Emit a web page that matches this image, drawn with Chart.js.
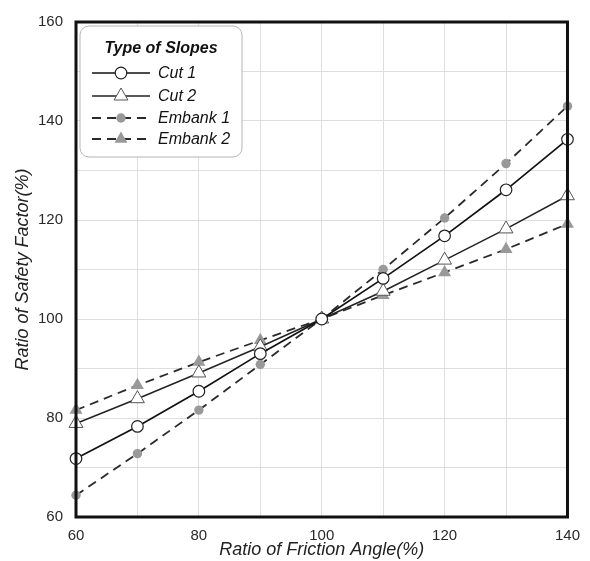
<!DOCTYPE html>
<html>
<head>
<meta charset="utf-8">
<script src="https://cdn.jsdelivr.net/npm/chart.js@4.4.1/dist/chart.umd.min.js"></script>
<style>
  html, body { margin: 0; padding: 0; background: #fff; }
  #wrap { width: 590px; height: 561px; position: relative; }
</style>
</head>
<body>
<div id="wrap"><canvas id="c" width="590" height="561"></canvas></div>
<script>
// Ratio of friction angle (%)
const frictionRatio = [60, 70, 80, 90, 100, 110, 120, 130, 140];
// Ratio of safety factor (%) for each slope type
const cut1     = [71.8, 78.3, 85.4, 93.0, 100, 108.2, 116.8, 126.1, 136.3];
const cut2     = [78.9, 83.9, 89.1, 94.4, 100, 105.6, 111.9, 118.2, 124.9];
const embank1  = [64.4, 72.8, 81.6, 90.8, 100, 110.0, 120.4, 131.4, 143.0];
const embank2  = [81.6, 86.6, 91.3, 95.7, 100, 104.8, 109.4, 114.1, 119.2];
const seriesNames = ['Cut 1', 'Cut 2', 'Embank 1', 'Embank 2'];
const legendTitle = 'Type of Slopes';
const xTitle = 'Ratio of Friction Angle(%)';
const yTitle = 'Ratio of Safety Factor(%)';

const FONT = "'Liberation Sans', Arial, sans-serif";

function pts(ys) { return frictionRatio.map((x, i) => ({ x, y: ys[i] })); }

const datasets = [
  { label: seriesNames[0], data: pts(cut1), borderColor: '#111', borderWidth: 1.7,
    pointStyle: 'circle', pointRadius: 5.8, pointBorderWidth: 1.2,
    pointBorderColor: '#222', pointBackgroundColor: '#fff' },
  { label: seriesNames[1], data: pts(cut2), borderColor: '#222', borderWidth: 1.5,
    pointStyle: 'triangle', pointRadius: 8, pointBorderWidth: 1,
    pointBorderColor: '#555', pointBackgroundColor: '#fff' },
  { label: seriesNames[2], data: pts(embank1), borderColor: '#2a2a2a', borderWidth: 1.8,
    borderDash: [9, 6], pointStyle: 'circle', pointRadius: 4.7, pointBorderWidth: 0,
    pointBorderColor: '#999', pointBackgroundColor: '#999' },
  { label: seriesNames[3], data: pts(embank2), borderColor: '#2a2a2a', borderWidth: 1.8,
    borderDash: [9, 6], pointStyle: 'triangle', pointRadius: 7.5, pointBorderWidth: 0,
    pointBorderColor: '#999', pointBackgroundColor: '#999' }
];
datasets.forEach(d => { d.fill = false; d.tension = 0; d.clip = false; });

// Thick frame around the plotting area
const framePlugin = {
  id: 'frame',
  afterDatasetsDraw(chart) {
    const { ctx, chartArea: a } = chart;
    ctx.save();
    ctx.strokeStyle = '#111';
    ctx.lineWidth = 3;
    ctx.strokeRect(a.left, a.top, a.right - a.left, a.bottom - a.top);
    ctx.restore();
  }
};

// Boxed legend with line + marker samples
const boxLegend = {
  id: 'boxLegend',
  afterDraw(chart) {
    const { ctx } = chart;
    const bx = 80, by = 26, bw = 162, bh = 131, r = 9;
    ctx.save();
    ctx.beginPath();
    ctx.roundRect(bx, by, bw, bh, r);
    ctx.fillStyle = '#fff';
    ctx.fill();
    ctx.strokeStyle = '#b5b5b5';
    ctx.lineWidth = 1;
    ctx.stroke();

    ctx.fillStyle = '#111';
    ctx.font = `italic bold 16px ${FONT}`;
    ctx.textAlign = 'center';
    ctx.textBaseline = 'middle';
    ctx.fillText(legendTitle, bx + bw / 2, 49);

    const rows = [73, 96, 118, 139];
    chart.data.datasets.forEach((ds, i) => {
      const y = rows[i];
      ctx.save();
      ctx.strokeStyle = ds.borderColor;
      ctx.lineWidth = ds.borderWidth;
      ctx.setLineDash(ds.borderDash || []);
      ctx.beginPath();
      ctx.moveTo(92, y);
      ctx.lineTo(150, y);
      ctx.stroke();
      ctx.restore();
      ctx.save();
      ctx.fillStyle = ds.pointBackgroundColor;
      ctx.strokeStyle = ds.pointBorderColor;
      ctx.lineWidth = ds.pointBorderWidth;
      Chart.helpers.drawPoint(ctx, {
        pointStyle: ds.pointStyle, radius: ds.pointRadius,
        borderWidth: ds.pointBorderWidth, rotation: 0
      }, 121, y);
      ctx.restore();
      ctx.fillStyle = '#111';
      ctx.font = `italic 16px ${FONT}`;
      ctx.textAlign = 'left';
      ctx.fillText(ds.label, 158, y + 1);
    });
    ctx.restore();
  }
};

new Chart(document.getElementById('c'), {
  type: 'line',
  data: { datasets },
  options: {
    responsive: false,
    animation: false,
    layout: { padding: { top: 21, right: 22, left: 0, bottom: 0 } },
    plugins: { legend: { display: false }, tooltip: { enabled: false } },
    scales: {
      x: {
        type: 'linear', min: 60, max: 140,
        afterFit(s) { s.height = 44; },
        grid: { color: '#dedede', lineWidth: 1, drawTicks: false },
        border: { display: false },
        ticks: {
          stepSize: 10, padding: 10, color: '#2a2a2a', maxRotation: 0,
          font: { family: FONT, size: 15 },
          callback: v => (v % 20 === 0 ? String(v) : '')
        },
        title: {
          display: true, text: xTitle, color: '#222',
          font: { family: FONT, size: 18, style: 'italic' },
          padding: { top: 0, bottom: 0 }
        }
      },
      y: {
        type: 'linear', min: 60, max: 160,
        afterFit(s) { s.width = 76; },
        grid: { color: '#dedede', lineWidth: 1, drawTicks: false },
        border: { display: false },
        ticks: {
          stepSize: 10, padding: 13, color: '#2a2a2a',
          font: { family: FONT, size: 15 },
          callback: v => (v % 20 === 0 ? String(v) : '')
        },
        title: {
          display: true, text: yTitle, color: '#222',
          font: { family: FONT, size: 18, style: 'italic' },
          padding: { top: 12, bottom: 0 }
        }
      }
    }
  },
  plugins: [framePlugin, boxLegend]
});
</script>
</body>
</html>
